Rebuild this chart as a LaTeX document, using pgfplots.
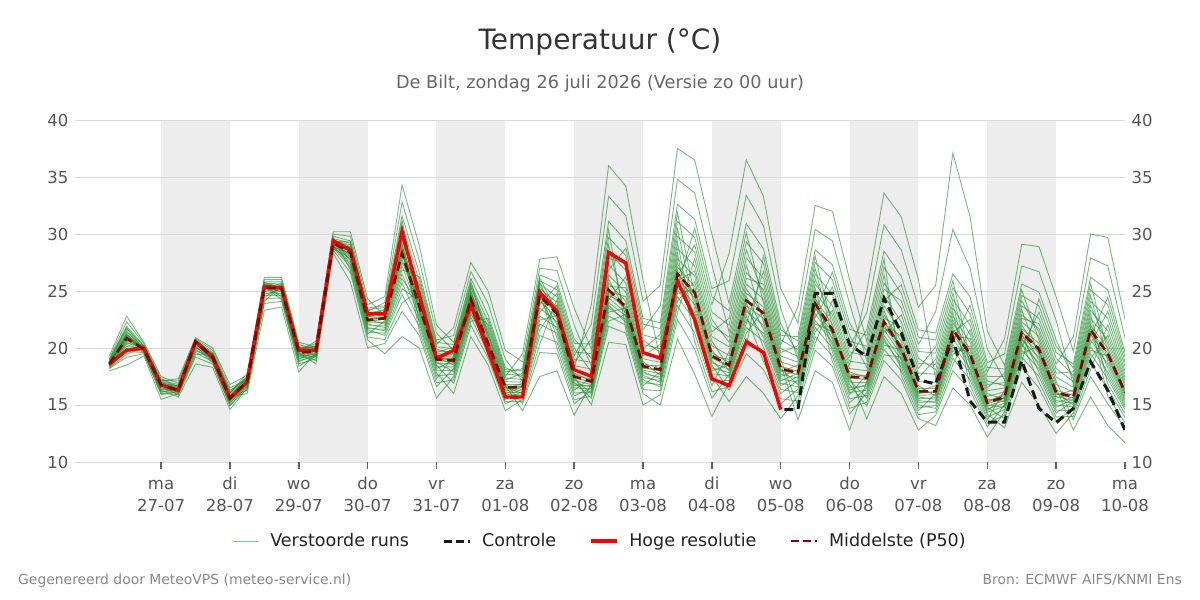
\documentclass[border=0pt]{standalone}
\usepackage{fontspec}
\setmainfont{DejaVu Sans}
\usepackage{pgfplots}
\usepackage{pgfplotstable}
\pgfplotsset{compat=1.18}
\definecolor{ensgreen}{RGB}{34,145,48}
\definecolor{p50red}{RGB}{139,0,0}
\definecolor{ctrlblack}{RGB}{25,25,25}
\definecolor{bandgrey}{RGB}{237,237,237}
\definecolor{gridgrey}{RGB}{218,218,218}
\definecolor{labgrey}{RGB}{85,85,85}
\definecolor{titlegrey}{RGB}{51,51,51}
\definecolor{subgrey}{RGB}{102,102,102}
\definecolor{footgrey}{RGB}{136,136,136}
\definecolor{tickgrey}{RGB}{100,100,100}
\definecolor{legtext}{RGB}{34,34,34}

\pgfplotstableread{
h hres ctrl p50 m1 m2 m3 m4 m5 m6 m7 m8 m9 m10 m11 m12 m13 m14 m15 m16
-18 18.6 18.6 18.6 18.0 19.3 18.4 18.9 18.6 18.7 18.2 19.1 18.5 18.7 18.3 19.0 18.6 18.8 18.5 18.6
-12 19.8 19.8 20.85 18.5 22.8 20.0 21.7 20.9 21.1 19.2 22.3 20.5 21.2 19.7 21.9 20.7 21.4 20.3 21.0
-6 20.0 20.0 19.9 19.3 20.5 19.7 20.2 19.9 20.0 19.5 20.4 19.8 20.0 19.6 20.2 19.9 20.1 19.8 19.9
0 16.75 16.75 16.75 15.5 17.5 16.3 17.1 16.8 16.8 15.9 17.3 16.6 16.9 16.1 17.2 16.7 17.0 16.4 16.8
6 16.3 16.3 16.3 16.0 16.9 15.7 17.3 16.4 16.3 16.2 16.6 15.9 16.7 16.4 17.1 16.1 16.5 16.3 16.2
12 20.55 20.55 20.55 19.6 20.7 18.6 20.9 20.6 20.4 20.1 20.7 19.2 20.7 20.6 20.8 19.9 20.6 20.6 20.3
18 19.2 19.2 19.2 18.8 19.6 18.3 20.0 19.2 19.1 19.0 19.4 18.6 19.5 19.3 19.8 18.9 19.4 19.2 19.1
24 15.6 15.6 15.6 15.1 16.3 14.6 16.8 15.7 15.5 15.4 16.0 14.9 16.1 15.7 16.5 15.3 15.8 15.6 15.5
30 17.05 17.05 17.05 16.9 17.3 16.5 17.6 16.0 17.1 17.1 17.8 16.7 17.5 16.3 17.2 17.0 17.4 16.8 17.1
36 25.35 25.35 25.3 25.0 25.6 24.3 26.0 23.3 25.4 25.3 26.2 24.6 25.8 23.9 25.5 25.2 25.7 24.8 25.4
42 25.3 25.3 25.2 25.0 25.5 24.4 26.0 23.6 25.3 25.2 26.2 24.6 25.8 24.1 25.4 25.1 25.6 24.8 25.3
48 19.8 19.8 19.6 19.4 19.9 18.8 20.3 17.9 19.7 19.6 20.5 19.0 20.1 18.4 19.8 19.5 20.0 19.2 19.7
54 19.8 19.8 19.7 18.9 20.4 19.4 19.9 19.6 20.6 18.6 20.1 19.8 20.0 19.3 20.2 19.2 19.8 19.5 19.7
60 29.4 29.4 29.2 28.6 30.0 29.0 29.4 29.1 30.2 28.3 29.6 29.3 29.5 28.9 29.8 28.8 29.3 29.1 29.2
66 28.6 28.6 28.4 26.6 29.8 27.8 28.8 28.2 30.2 25.8 29.2 28.5 28.9 27.5 29.4 27.1 28.6 28.0 28.4
72 23.0 23.0 22.45 20.7 23.8 21.8 22.8 22.3 24.3 20.0 23.2 22.5 23.0 21.6 23.5 21.2 22.7 22.1 22.5
78 23.0 23.0 22.6 19.5 24.5 21.5 23.4 22.6 22.8 20.4 24.0 22.1 23.0 21.1 23.7 22.4 23.2 21.8 22.7
84 30.2 30.2 28.3 21.0 34.3 25.7 30.8 28.3 29.0 23.2 32.8 27.2 29.5 24.7 31.6 27.8 30.1 26.5 28.6
90 24.65 24.65 23.7 20.0 29.0 22.4 25.9 23.7 24.3 21.1 27.7 23.2 24.8 21.9 26.6 23.4 25.3 22.8 24.0
96 19.1 19.1 19.0 15.6 22.0 17.8 20.3 19.0 19.4 16.6 21.3 18.5 19.6 17.3 20.7 18.8 19.9 18.2 19.2
102 19.8 19.8 18.9 17.5 20.5 16.0 21.8 19.1 18.7 18.2 19.8 16.9 20.1 19.3 21.1 17.9 19.5 18.9 18.5
108 23.8 23.8 24.3 22.7 26.1 21.0 27.5 24.5 24.1 23.5 25.3 22.0 25.6 24.7 26.7 23.2 24.9 24.3 23.8
114 19.75 19.75 20.4 19.5 22.9 18.5 25.0 20.6 20.3 19.9 21.8 19.1 22.3 21.0 23.9 19.7 21.3 20.4 20.1
120 15.7 15.7 16.55 15.5 18.3 14.5 19.8 16.7 16.4 16.0 17.5 15.1 17.9 16.9 19.0 15.8 17.2 16.6 16.2
126 15.7 15.7 16.55 16.2 17.4 15.5 18.8 14.5 16.9 16.6 19.5 15.8 18.2 15.1 17.1 16.4 17.8 16.0 16.7
132 24.9 24.9 24.6 23.5 25.6 21.1 27.0 17.5 25.0 24.6 27.8 22.1 26.4 19.6 25.2 24.1 25.9 22.8 24.8
138 23.2 23.2 23.0 22.3 24.5 20.5 26.8 18.0 23.6 23.0 28.0 21.3 25.8 19.5 24.0 22.7 25.1 21.8 23.3
144 18.1 18.1 17.5 17.0 19.3 15.8 22.0 14.1 18.2 17.5 23.5 16.3 20.8 15.1 18.7 17.3 20.0 16.7 17.8
150 17.5 17.5 17.05 15.6 22.1 16.5 18.4 16.9 23.8 15.0 19.9 17.4 19.1 16.3 20.8 16.0 17.9 16.7 17.1
156 28.4 28.4 25.1 21.9 33.3 24.0 27.3 24.8 36.0 20.5 29.7 25.7 28.4 23.5 31.1 22.8 26.4 24.4 25.1
162 27.45 27.45 23.6 21.3 31.6 22.8 25.7 23.4 34.2 20.3 28.1 24.1 26.8 22.5 29.4 22.0 24.9 23.1 23.6
168 19.6 19.6 18.4 16.0 24.1 17.6 19.9 18.2 26.0 15.0 21.6 18.8 20.7 17.2 22.6 16.7 19.3 17.9 18.4
174 19.1 19.1 18.1 15.0 25.5 17.0 21.2 18.1 19.0 15.9 23.7 17.6 19.6 16.6 22.2 17.9 20.3 17.3 18.5
180 25.9 25.9 26.5 20.8 37.5 24.5 31.1 26.5 27.8 22.5 34.8 25.7 28.7 23.7 32.6 26.1 29.8 25.1 27.1
186 22.5 22.5 24.85 17.7 36.5 22.4 29.7 24.9 26.3 19.9 33.6 23.8 27.2 21.3 31.3 24.4 28.4 23.1 25.4
192 17.3 17.3 19.3 14.0 30.0 17.5 23.8 19.3 20.6 15.6 27.3 18.5 21.4 16.7 25.2 18.9 22.5 18.0 19.8
198 16.7 16.7 18.5 16.9 23.9 15.3 28.3 19.0 18.3 17.7 21.4 16.3 22.6 19.7 25.9 17.4 20.5 18.5 18.0
204 20.55 20.55 24.15 20.8 30.9 17.5 36.5 24.8 23.7 22.5 27.9 19.5 29.3 25.6 33.4 21.8 26.6 24.2 23.2
210 19.6 19.6 23.05 19.5 28.7 16.0 33.3 23.6 22.6 21.3 26.1 18.1 27.4 24.3 30.7 20.6 25.1 23.1 22.0
216 14.6 14.6 18.2 16.0 22.1 13.8 25.2 18.6 17.9 17.1 20.3 15.1 21.1 19.0 23.5 16.7 19.6 18.2 17.5
222 nan 14.6 17.8 17.2 19.5 15.8 22.2 13.7 18.5 17.8 23.6 16.4 21.0 14.9 19.0 17.5 20.2 16.8 18.1
228 nan 24.8 23.9 23.0 26.5 21.0 30.4 18.0 24.9 23.9 32.5 21.8 28.6 19.8 25.6 23.5 27.5 22.4 24.3
234 nan 24.8 21.6 20.9 24.7 19.3 29.4 17.0 22.9 21.6 32.0 20.0 27.3 18.4 23.7 21.3 26.0 20.5 22.1
240 nan 20.3 17.5 16.8 20.1 15.2 23.9 12.8 18.5 17.5 26.0 15.9 22.2 14.2 19.2 17.2 21.1 16.3 17.9
246 nan 19.25 17.35 14.9 23.1 16.5 18.9 17.1 25.0 13.8 20.6 17.7 19.7 16.1 21.6 15.6 18.3 16.8 17.4
252 nan 24.35 22.3 18.9 30.8 21.1 24.6 22.0 33.6 17.5 27.1 22.9 25.7 20.6 28.5 19.9 23.7 21.6 22.3
258 nan 21.35 20.0 17.2 28.6 19.0 22.3 19.7 31.5 16.0 24.8 20.6 23.5 18.6 26.3 18.0 21.4 19.4 20.0
264 nan 17.2 16.2 13.8 23.6 15.4 18.2 16.0 26.0 12.8 20.3 16.7 19.1 15.0 21.6 14.5 17.4 15.7 16.2
270 nan 16.85 16.2 13.2 25.5 15.2 20.1 16.2 17.3 14.1 23.2 15.8 18.1 14.7 21.3 16.0 19.0 15.5 16.7
276 nan 20.85 21.6 16.5 37.1 19.8 25.3 21.6 22.8 18.0 30.4 20.8 23.5 19.1 26.5 21.2 24.3 20.3 22.2
282 nan 15.35 19.5 15.0 31.5 17.8 23.0 19.3 20.5 16.3 27.0 18.7 21.2 17.2 24.5 19.0 22.0 18.2 19.9
288 nan 13.5 15.2 12.2 21.5 14.2 17.9 15.2 16.0 13.1 19.9 14.8 16.5 13.7 18.7 15.0 17.1 14.5 15.5
294 nan 13.5 15.7 14.4 18.5 13.0 20.8 16.0 15.5 15.0 17.2 13.8 17.8 16.3 19.5 14.8 16.7 15.7 15.3
300 nan 18.9 21.35 19.2 25.6 17.0 29.1 21.7 21.1 20.3 23.7 18.3 24.6 22.3 27.2 19.8 22.9 21.4 20.7
306 nan 14.7 19.9 17.5 24.9 15.0 28.9 20.4 19.6 18.7 22.6 16.5 23.7 21.0 26.7 18.2 21.7 19.9 19.2
312 nan 13.45 16.1 14.3 20.7 12.5 24.5 16.5 15.9 15.2 18.6 13.6 19.6 17.1 22.4 14.8 17.8 16.1 15.6
318 nan 14.7 15.7 15.3 17.3 14.3 19.7 12.8 16.3 15.7 21.0 14.7 18.6 13.7 16.8 15.5 17.9 15.0 16.0
324 nan 18.8 21.6 20.7 24.1 18.7 27.9 15.7 22.6 21.6 30.0 19.5 26.2 17.5 23.3 21.2 25.1 20.1 22.0
330 nan 16.3 19.5 18.6 22.6 16.4 27.2 13.2 20.7 19.5 29.7 17.3 25.1 15.1 21.5 19.1 23.8 17.9 20.0
336 nan 12.8 16.1 15.4 18.0 13.9 20.9 11.7 16.9 16.1 22.5 14.6 19.6 13.0 17.4 15.8 18.8 15.0 16.4
}\ens

\pgfplotstableread{
h n1 n2 n3 n4 n5 n6 n7 n8 n9 n10 n11 n12
-18 18.6 18.25 18.95 18.5 18.7 18.35 18.85 18.6 18.45 18.75 18.55 18.65
-12 20.95 19.45 21.8 20.4 21.15 19.85 21.55 20.8 20.15 21.3 20.6 21.05
-6 19.75 20.05 19.9 20.2 19.55 19.95 19.8 20.15 19.9 19.65 20.0 19.85
0 16.35 16.95 16.75 17.15 16.0 16.8 16.5 17.05 16.8 16.2 16.85 16.65
6 16.15 16.55 16.3 16.8 15.95 16.4 16.2 16.65 16.35 16.05 16.45 16.25
12 20.0 20.65 20.5 20.7 19.4 20.6 20.2 20.7 20.6 19.75 20.6 20.35
18 19.45 19.1 18.85 19.25 19.55 19.15 18.7 19.35 19.05 19.2 19.4 18.95
24 16.05 15.5 15.2 15.7 16.2 15.55 15.0 15.75 15.45 15.65 15.9 15.35
30 17.35 16.95 16.6 17.1 17.45 17.05 16.4 17.15 16.85 17.1 17.25 16.75
36 25.65 25.1 24.45 25.4 25.75 25.25 24.1 25.45 24.9 25.35 25.55 24.7
42 25.05 25.7 25.35 24.25 25.25 24.7 25.45 24.5 25.55 24.9 25.3 25.15
48 19.45 20.05 19.75 18.6 19.65 19.1 19.85 18.9 19.95 19.3 19.7 19.55
54 19.55 20.15 19.85 19.05 19.75 19.35 19.95 19.25 20.05 19.45 19.8 19.65
60 29.1 29.7 29.35 28.7 29.25 28.95 29.45 28.85 29.55 29.05 29.3 29.15
66 28.45 26.85 29.3 27.9 28.7 27.3 29.05 28.3 27.65 28.85 28.1 28.55
72 22.5 20.95 23.35 21.95 22.75 21.4 23.1 22.4 21.7 22.9 22.2 22.6
78 22.65 20.75 23.55 21.95 22.9 21.3 23.3 22.5 21.65 23.1 22.25 22.75
84 28.45 23.95 31.2 26.85 29.25 25.2 30.45 28.05 26.1 29.8 27.5 28.8
90 22.6 25.05 23.55 26.25 21.5 24.15 23.0 25.6 23.85 22.15 24.55 23.3
96 18.0 19.75 18.9 20.5 16.95 19.3 18.35 20.1 19.1 17.55 19.5 18.65
102 18.05 19.65 18.8 20.3 17.2 19.2 18.35 19.95 19.0 17.7 19.4 18.6
108 23.35 25.1 24.2 25.85 22.35 24.6 23.65 25.45 24.4 22.95 24.8 23.95
114 22.05 20.2 19.6 20.8 22.6 20.35 19.3 21.15 20.0 20.5 21.55 19.8
120 17.7 16.3 15.65 16.8 18.1 16.5 15.3 17.05 16.1 16.65 17.35 15.9
126 17.6 16.3 15.65 16.8 18.0 16.5 15.3 17.0 16.1 16.65 17.25 15.9
132 25.75 23.8 21.6 24.9 26.15 24.35 20.35 25.1 23.15 24.7 25.4 22.45
138 22.5 25.45 23.8 20.0 23.15 21.55 24.25 20.9 24.8 22.05 23.45 22.85
144 17.15 20.4 18.45 15.45 17.65 16.5 19.0 16.05 19.65 16.85 18.0 17.4
150 16.8 20.35 18.15 15.8 17.25 16.4 18.75 16.15 19.5 16.6 17.65 17.0
156 24.6 30.4 26.85 22.35 25.4 23.75 27.85 23.15 29.05 24.2 26.05 24.95
162 23.85 21.65 28.75 22.95 25.3 22.25 27.45 23.5 22.65 26.25 23.25 24.5
168 18.6 16.35 22.1 17.75 19.6 16.95 21.15 18.3 17.4 20.3 18.05 19.05
174 18.3 16.25 21.7 17.45 19.3 16.8 20.75 18.0 17.15 19.95 17.75 18.75
180 26.8 23.1 31.85 25.4 28.25 24.1 30.45 26.3 24.8 29.25 25.9 27.45
186 22.75 27.8 24.65 30.5 20.6 25.85 23.45 29.05 25.15 21.85 26.75 24.1
192 17.75 21.95 19.1 24.5 16.15 20.2 18.25 23.15 19.55 17.1 21.0 18.7
198 17.55 20.95 18.4 23.25 16.6 19.35 17.85 22.0 18.75 17.15 20.1 18.15
204 22.15 27.25 23.95 30.1 20.15 25.2 22.85 28.6 24.5 21.3 26.1 23.45
210 26.75 22.3 20.05 23.95 28.05 22.85 18.8 24.7 21.65 23.35 25.6 20.95
216 20.7 17.7 16.35 18.8 21.6 18.05 15.55 19.3 17.3 18.4 19.95 16.9
222 19.85 17.35 16.1 18.3 20.6 17.65 15.35 18.75 17.0 17.95 19.25 16.6
228 27.0 23.25 21.4 24.6 28.05 23.7 20.4 25.25 22.7 24.1 26.05 22.1
234 21.1 26.65 23.3 18.85 21.85 20.25 24.2 19.65 25.35 20.7 22.5 21.45
240 17.0 21.65 18.85 14.7 17.7 16.1 19.65 15.55 20.6 16.55 18.2 17.35
246 16.95 21.1 18.6 15.25 17.55 16.3 19.3 15.85 20.15 16.65 18.0 17.25
252 21.8 27.8 24.15 19.4 22.6 20.85 25.15 20.25 26.4 21.35 23.3 22.15
258 20.3 17.6 25.55 19.2 21.85 18.3 24.15 19.85 18.8 22.9 19.55 21.0
264 16.45 14.15 20.95 15.55 17.8 14.75 19.7 16.1 15.2 18.65 15.85 17.05
270 16.45 14.4 20.7 15.65 17.7 14.95 19.55 16.1 15.35 18.55 15.9 17.0
276 21.9 18.55 25.9 20.55 23.15 19.45 24.8 21.4 20.05 23.9 21.0 22.5
282 18.0 21.6 19.15 23.75 16.75 20.2 18.45 22.5 19.6 17.5 20.85 18.85
288 14.35 16.8 15.1 18.3 13.4 15.75 14.65 17.5 15.35 13.95 16.25 14.9
294 14.9 16.95 15.6 18.15 14.1 16.15 15.15 17.5 15.85 14.6 16.5 15.4
300 20.05 23.3 21.25 25.1 18.75 22.0 20.5 24.15 21.55 19.5 22.6 20.9
306 23.15 19.4 17.85 20.7 24.3 19.75 17.0 21.35 18.95 20.15 22.15 18.45
312 19.1 15.75 14.55 16.8 20.15 16.0 13.95 17.45 15.4 16.3 18.2 15.0
318 17.6 15.4 14.5 16.15 18.25 15.6 14.0 16.55 15.15 15.85 17.05 14.85
324 24.6 20.95 19.1 22.3 25.65 21.4 18.1 22.95 20.4 21.8 23.7 19.8
330 18.85 24.45 21.1 15.75 19.75 17.6 22.05 16.85 23.2 18.25 20.35 19.3
336 15.6 19.2 17.15 13.45 16.25 14.8 17.7 14.25 18.4 15.2 16.65 15.95
}\ensb

\begin{document}
\begin{tikzpicture}
\path (0,0) rectangle (1200pt,600pt);
\node[anchor=base, font=\fontsize{28}{32}\selectfont, text=titlegrey] at (600pt,550pt) {Temperatuur (°C)};
\node[anchor=base, font=\fontsize{17.7}{21}\selectfont, text=subgrey] at (600pt,511.5pt) {De Bilt, zondag 26 juli 2026 (Versie zo 00 uur)};
\node[anchor=base west, inner sep=0pt, font=\fontsize{13.9}{16}\selectfont, text=footgrey] at (18pt,15pt) {Gegenereerd door MeteoVPS (meteo-service.nl)};
\node[anchor=base east, inner sep=0pt, font=\fontsize{13.9}{16}\selectfont, text=footgrey] at (1182pt,15pt) {Bron: ECMWF AIFS/KNMI Ens};

\begin{axis}[
  set layers,
  at={(75pt,138pt)}, anchor=south west,
  width=1050pt, height=342pt, scale only axis,
  xmin=-30, xmax=336, ymin=10, ymax=40,
  axis line style={draw=none},
  ytick={10,15,...,40},
  ymajorgrids, grid style={color=gridgrey, line width=0.9pt},
  xtick={0,24,...,336},
  xtick pos=left,
  xticklabels={{\strut ma\\\strut 27-07},{\strut di\\\strut 28-07},{\strut wo\\\strut 29-07},{\strut do\\\strut 30-07},{\strut vr\\\strut 31-07},{\strut za\\\strut 01-08},{\strut zo\\\strut 02-08},{\strut ma\\\strut 03-08},{\strut di\\\strut 04-08},{\strut wo\\\strut 05-08},{\strut do\\\strut 06-08},{\strut vr\\\strut 07-08},{\strut za\\\strut 08-08},{\strut zo\\\strut 09-08},{\strut ma\\\strut 10-08}},
  xticklabel style={align=center, font=\fontsize{16.5}{21.5}\selectfont, text=labgrey, yshift=-2pt},
  yticklabel style={font=\fontsize{16.5}{19}\selectfont, text=labgrey, xshift=4pt},
  /pgf/number format/assume math mode=true,
  tick align=outside,
  xtick style={draw=tickgrey, line width=1.5pt},
  ytick style={draw=none},
  major tick length=7pt,
  scaled y ticks=false,
  legend style={at={(0.5,-0.231)}, anchor=center, draw=none, fill=none,
    legend columns=4, font=\fontsize{17.5}{20}\selectfont, text=legtext,
    /tikz/every odd column/.append style={column sep=9pt},
    /tikz/every even column/.append style={column sep=31pt}},
  legend cell align=left,
  legend image code/.code={\draw[#1] (0pt,0pt) -- (26pt,0pt);},
]
\begin{pgfonlayer}{axis background}
\fill[bandgrey] (axis cs:0,10) rectangle (axis cs:24,40);
\fill[bandgrey] (axis cs:48,10) rectangle (axis cs:72,40);
\fill[bandgrey] (axis cs:96,10) rectangle (axis cs:120,40);
\fill[bandgrey] (axis cs:144,10) rectangle (axis cs:168,40);
\fill[bandgrey] (axis cs:192,10) rectangle (axis cs:216,40);
\fill[bandgrey] (axis cs:240,10) rectangle (axis cs:264,40);
\fill[bandgrey] (axis cs:288,10) rectangle (axis cs:312,40);
\end{pgfonlayer}
\pgfplotsinvokeforeach{1,...,16}{
  \addplot[ensgreen, draw opacity=0.62, line width=0.9pt, forget plot] table[x=h, y=m#1] {\ens};
}
\pgfplotsinvokeforeach{1,...,12}{
  \addplot[ensgreen, draw opacity=0.62, line width=0.9pt, forget plot] table[x=h, y=n#1] {\ensb};
}
\addplot[ctrlblack, line width=3pt, dash pattern=on 9pt off 5pt, forget plot] table[x=h, y=ctrl] {\ens};
\addplot[red, line width=3.2pt, forget plot] table[x=h, y=hres] {\ens};
\addplot[p50red, line width=2.6pt, dash pattern=on 9pt off 5pt, forget plot] table[x=h, y=p50] {\ens};
\addlegendimage{ensgreen, draw opacity=0.55, line width=1pt}
\addlegendentry{Verstoorde runs}
\addlegendimage{ctrlblack, line width=3pt, dash pattern=on 8pt off 4pt}
\addlegendentry{Controle}
\addlegendimage{red, line width=3.2pt}
\addlegendentry{Hoge resolutie}
\addlegendimage{p50red, line width=2.6pt, dash pattern=on 8pt off 4pt}
\addlegendentry{Middelste (P50)}
\end{axis}

\begin{axis}[
  at={(75pt,138pt)}, anchor=south west,
  width=1050pt, height=342pt, scale only axis,
  xmin=-30, xmax=336, ymin=10, ymax=40,
  hide x axis, axis y line*=right,
  y axis line style={draw=none},
  ytick={10,15,...,40}, ytick style={draw=none},
  yticklabel style={font=\fontsize{16.5}{19}\selectfont, text=labgrey, xshift=3pt},
  /pgf/number format/assume math mode=true,
]
\addplot[draw=none, forget plot] coordinates {(0,10)};
\end{axis}
\end{tikzpicture}
\end{document}
